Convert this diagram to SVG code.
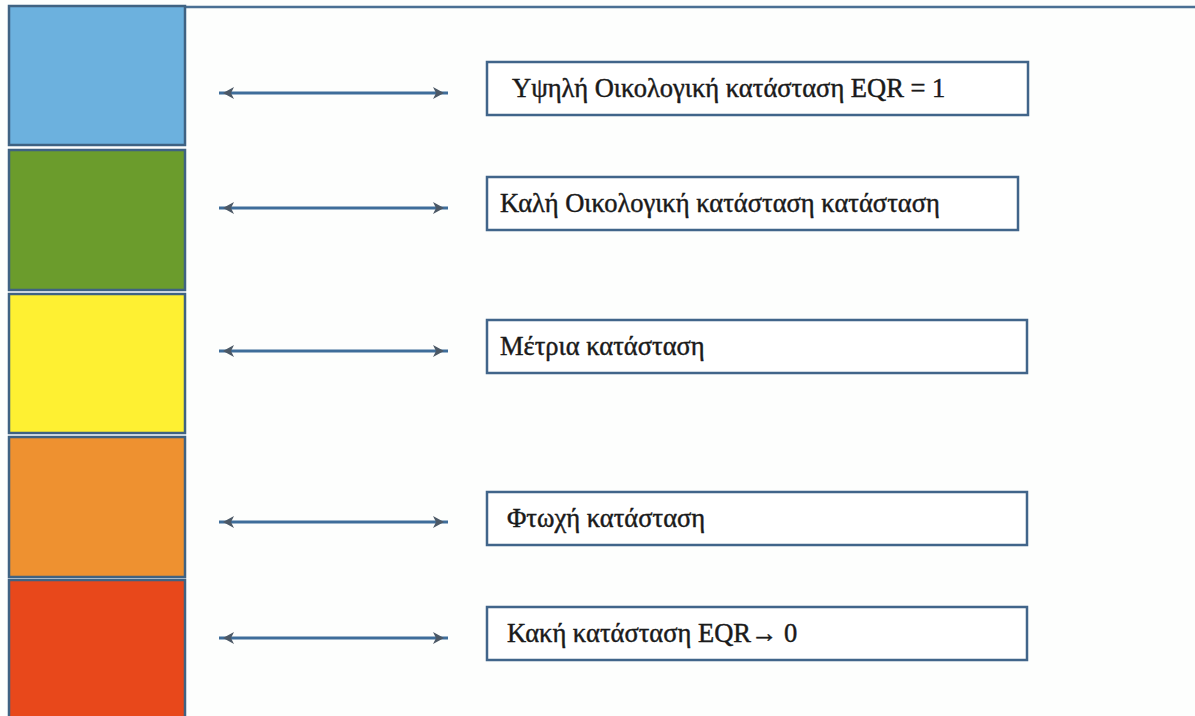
<svg xmlns="http://www.w3.org/2000/svg" width="1195" height="716" viewBox="0 0 1195 716">
<style>
.band{stroke:#3f6282;stroke-width:2.5}
.box{fill:#fff;stroke:#41658a;stroke-width:2.5}
.lbl{font-family:"Liberation Serif","Times New Roman",serif;font-size:26.5px;fill:#1a1a1a;stroke:#1a1a1a;stroke-width:0.45}
.conn{stroke:#3e6d9a;stroke-width:3;fill:none}
.ah{fill:#4c5866}
</style>
<defs>
<filter id="soft" x="-50%" y="-50%" width="200%" height="200%"><feGaussianBlur stdDeviation="0.7"/></filter>
<path id="ahl" class="ah" d="M-6,0 L5,-6 L2,0 L5,6 Z" filter="url(#soft)"/>
<path id="ahr" class="ah" d="M6,0 L-5,-6 L-2,0 L-5,6 Z" filter="url(#soft)"/>
</defs>
<rect width="1195" height="716" fill="#fdfefd"/>
<line x1="186" y1="7" x2="1195" y2="7" stroke="#4a6f93" stroke-width="2.5"/>
<g id="band-high"><rect class="band" x="9" y="6" width="176" height="139" fill="#6cb1de"/></g>
<g id="band-good"><rect class="band" x="9" y="150" width="176" height="140" fill="#6b9c2c"/></g>
<g id="band-moderate"><rect class="band" x="9" y="294" width="176" height="139" fill="#fef032"/></g>
<g id="band-poor"><rect class="band" x="9" y="437" width="176" height="140" fill="#ee9130"/></g>
<g id="band-bad"><rect class="band" x="9" y="580" width="176" height="140" fill="#e8481b"/></g>
<g id="connectors">
<line class="conn" x1="219" y1="93" x2="448" y2="93"/>
<use href="#ahl" x="229" y="93"/><use href="#ahr" x="438" y="93"/>
<line class="conn" x1="219" y1="208" x2="448" y2="208"/>
<use href="#ahl" x="229" y="208"/><use href="#ahr" x="438" y="208"/>
<line class="conn" x1="219" y1="351" x2="448" y2="351"/>
<use href="#ahl" x="229" y="351"/><use href="#ahr" x="438" y="351"/>
<line class="conn" x1="219" y1="522" x2="448" y2="522"/>
<use href="#ahl" x="229" y="522"/><use href="#ahr" x="438" y="522"/>
<line class="conn" x1="219" y1="638" x2="448" y2="638"/>
<use href="#ahl" x="229" y="638"/><use href="#ahr" x="438" y="638"/>
</g>
<g id="node-high"><rect class="box" x="487" y="62" width="541" height="53"/><text class="lbl" x="512" y="97">Υψηλή Οικολογική κατάσταση EQR = 1</text></g>
<g id="node-good"><rect class="box" x="487" y="177" width="531" height="53"/><text class="lbl" x="500" y="212">Καλή Οικολογική κατάσταση κατάσταση</text></g>
<g id="node-moderate"><rect class="box" x="487" y="320" width="540" height="53"/><text class="lbl" x="500" y="355">Μέτρια κατάσταση</text></g>
<g id="node-poor"><rect class="box" x="487" y="492" width="540" height="53"/><text class="lbl" x="507" y="527">Φτωχή κατάσταση</text></g>
<g id="node-bad"><rect class="box" x="487" y="607" width="540" height="53"/><text class="lbl" x="507" y="642">Κακή κατάσταση EQR→ 0</text></g>
</svg>
